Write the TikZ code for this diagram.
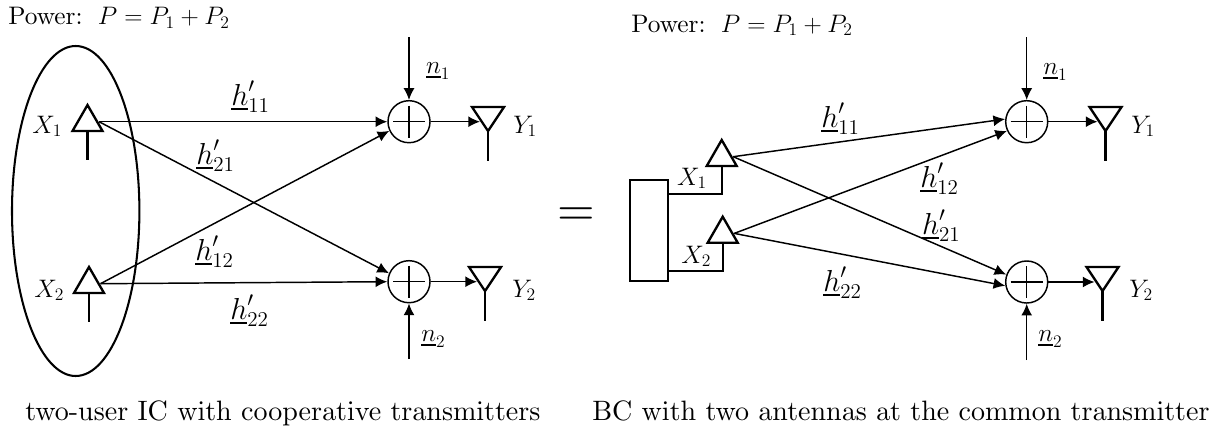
\documentclass[tikz,border=0pt]{standalone}
\usetikzlibrary{arrows.meta}
\font\capFnt=cmr10 at 19.15pt
\font\powFnt=cmr10 at 17.3pt
\font\eqFnt=cmr10 at 33pt
\newcommand{\ubar}[1]{\mathord{\setbox0=\hbox{$#1$}\rlap{\rule[-3.6pt]{\wd0}{1.5pt}}\box0}}
\tikzset{
    lblNd/.style={anchor=base west,inner sep=0pt,font=\fontsize{17.3}{20}\selectfont},
    hNd/.style={anchor=base west,inner sep=0pt,font=\fontsize{19.5}{22}\selectfont},
    capNd/.style={anchor=base west,inner sep=0pt,font=\capFnt},
    sumNd/.style={draw,circle,line width=1pt,minimum size=28.7pt,inner sep=0pt},
    chanLn/.style={line width=1pt,-{Latex[length=8pt,width=7.5pt]}},
    antLn/.style={line width=1.6pt}
}
\begin{document}
\begin{tikzpicture}[x=0.024cm,y=-0.024cm]
\useasboundingbox (0,0) rectangle (1222,430);

\draw[line width=1.4pt] (75.7,211) ellipse [x radius=63.7, y radius=165];

\node[sumNd] (cSumA) at (409,121.7){};
\node[sumNd] (cSumB) at (409,281.7){};
\node[sumNd] (cSumC) at (1026.7,121.7){};
\node[sumNd] (cSumD) at (1026.7,282){};
\node[draw,antLn,minimum width=26pt,minimum height=69pt,inner sep=0pt] (cBoxNd) at (649,230.5){};

% transmit antennas: name, apex
\foreach \v/\x/\y in 
{cTxA/87.5/105,
    cTxB/89/267,
    cTxC/721.7/140,
    cTxD/722.7/216.7
}
{
    \draw[antLn] (\x,\y) -- ++(-15,26) -- ++(30,0) -- cycle;
    \draw[antLn] (\x,\y+26) -- (\x,\y+55);
    \coordinate (\v) at (\x+11.5,\y+16.7);
};

% receive antennas
\foreach \x/\y in 
{488/107,
    485/267,
    1105.5/107,
    1102.5/267
}
{
    \draw[antLn] (\x-16,\y) -- (\x+16,\y) -- (\x,\y+24) -- cycle;
    \draw[antLn] (\x,\y+24) -- (\x,\y+54);
};

\foreach \v in {cSumA,cSumB,cSumC,cSumD}
{
    \draw[line width=1pt] (\v) ++(-16,0) -- ++(32,0);
    \draw[line width=1pt] (\v) ++(0,-16) -- ++(0,32);
};

\coordinate (cRxAPt) at (480,121.7);
\coordinate (cRxBPt) at (477,281.7);
\coordinate (cRxCPt) at (1097.5,121.7);
\coordinate (cRxDPt) at (1094.5,282);
\draw[chanLn] (cSumA) -- (cRxAPt);
\draw[chanLn] (cSumB) -- (cRxBPt);
\draw[chanLn] (cSumC) -- (cRxCPt);
\draw[chanLn] (cSumD) -- (cRxDPt);

\coordinate (cNoiseA) at (409,37);
\coordinate (cNoiseB) at (409,359);
\coordinate (cNoiseC) at (1026.7,37);
\coordinate (cNoiseD) at (1026.7,360);
\draw[chanLn] (cNoiseA) -- (cSumA);
\draw[chanLn] (cNoiseB) -- (cSumB);
\draw[chanLn] (cNoiseC) -- (cSumC);
\draw[chanLn] (cNoiseD) -- (cSumD);

\draw[chanLn] (cTxA) -- (cSumA.west);
\draw[chanLn] (cTxA) -- (cSumB.157);
\draw[chanLn] (cTxB) -- (cSumA.205);
\draw[chanLn] (cTxB) -- (cSumB.west);
\draw[chanLn] (cTxC) -- (cSumC.173);
\draw[chanLn] (cTxC) -- (cSumD.160);
\draw[chanLn] (cTxD) -- (cSumC.205);
\draw[chanLn] (cTxD) -- (cSumD.190);

\coordinate (cFeedA) at (cBoxNd.east |- 0,194);
\coordinate (cFeedB) at (cBoxNd.east |- 0,270.7);
\draw[antLn] (721.7,194) -- (cFeedA);
\draw[antLn] (722.7,270.7) -- (cFeedB);

\node[capNd] (lCapA) at (25,420.7){two-user IC with cooperative transmitters};
\node[capNd] (lCapB) at (592,420.7){BC with two antennas at the common transmitter};

\foreach \v/\x/\y/\t in 
{lPowA/8/25/{{\powFnt Power:}\ \ $P=P_1+P_2$},
    lPowB/631/32/{{\powFnt Power:}\ \ $P=P_1+P_2$},
    lXa/32/133/{$X_1$},
    lXb/34/297/{$X_2$},
    lYa/513/133/{$Y_1$},
    lYb/512/297/{$Y_2$},
    lNa/425.7/73/{$\ubar{n}_1$},
    lNb/421/341/{$\ubar{n}_2$},
    lXc/676.7/185/{$X_1$},
    lXd/681/263/{$X_2$},
    lYc/1131/133/{$Y_1$},
    lYd/1129/297/{$Y_2$},
    lNc/1043/74/{$\ubar{n}_1$},
    lNd/1038/341/{$\ubar{n}_2$}
}
{
    \node[lblNd] (\v) at (\x,\y){\t};
};

\foreach \v/\x/\y/\t in 
{lHaa/231/105/{$\ubar{h}'_{11}$},
    lHba/196/164/{$\ubar{h}'_{21}$},
    lHab/195/260/{$\ubar{h}'_{12}$},
    lHbb/230/319/{$\ubar{h}'_{22}$},
    lHcc/821/127/{$\ubar{h}'_{11}$},
    lHcd/920/187/{$\ubar{h}'_{12}$},
    lHdc/921.7/234/{$\ubar{h}'_{21}$},
    lHdd/823/291/{$\ubar{h}'_{22}$}
}
{
    \node[hNd] (\v) at (\x,\y){\t};
};

\node[font=\eqFnt,inner sep=0pt] (lEq) at (576,217){=};
\end{tikzpicture}
\end{document}
